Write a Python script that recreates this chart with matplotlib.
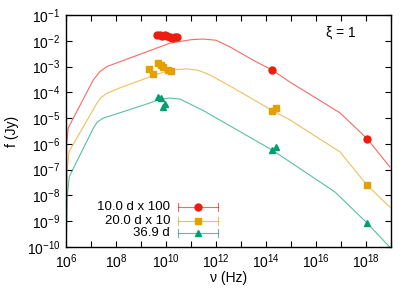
import matplotlib
matplotlib.use("Agg")
import matplotlib.pyplot as plt
import matplotlib.ticker as mticker
import numpy as np

plt.rcParams['font.family'] = ['Liberation Sans', 'DejaVu Sans']
plt.rcParams['mathtext.fontset'] = 'custom'
plt.rcParams['mathtext.rm'] = 'Liberation Sans'
plt.rcParams['mathtext.default'] = 'regular'

# model curves
red_nu = [1e6, 1.07e6, 1.23e6, 1.23e7, 2.24e7, 4.3e7, 1.45e8, 1.45e10, 1e11, 3.0e11,
          1e12, 3.6e12, 3.0e13, 1.74e14, 9.1e14, 9.1e16, 1.1e18, 9.1e18]
red_f = [3e-11, 1.07e-6, 4.2e-6, 3.0e-4, 6.3e-4, 1.0e-3, 1.55e-3, 8.1e-3, 1.1e-2, 1.17e-2,
         1.05e-2, 5.8e-3, 1.78e-3, 7.4e-4, 2.5e-4, 1.6e-5, 1.6e-6, 1.26e-7]

orange_nu = [1e6, 1.12e6, 1.32e6, 1.7e7, 2.5e7, 4.3e7, 1.45e8, 2.3e9, 1.45e10, 6.9e10,
             2e11, 5.8e11, 6.9e12, 1.74e14, 9.1e14, 9.1e16, 1.1e18, 9.1e18]
orange_f = [3e-11, 1e-7, 5e-7, 3.7e-5, 6.3e-5, 9.1e-5, 1.5e-4, 4.0e-4, 7.4e-4, 8.1e-4,
            7.1e-4, 4.7e-4, 1.23e-4, 2.0e-5, 8.5e-6, 4.9e-7, 2.5e-8, 3.5e-9]

green_nu = [1e6, 1.12e6, 1.35e6, 1.23e7, 1.78e7, 3.1e7, 1.45e8, 2.3e9, 5.8e9, 1.45e10,
            3.6e10, 3.0e11, 6.9e12, 1.74e14, 9.1e14, 5.8e16, 1.1e18, 1e19]
green_f = [3e-11, 8.9e-9, 5.4e-8, 4.0e-6, 7.1e-6, 1.0e-5, 1.62e-5, 3.9e-5, 5.5e-5, 6.0e-5,
           5.5e-5, 2.0e-5, 3.5e-6, 5.8e-7, 2.0e-7, 1.35e-8, 8.5e-10, 8.9e-11]

# observed points
red_obs_nu = [4.5e9, 5.6e9, 7.1e9, 8.9e9, 1.12e10, 1.41e10, 1.78e10, 2.24e10, 2.8e10, 1.74e14, 1.1e18]
red_obs_f = [1.74e-2, 1.66e-2, 1.58e-2, 1.66e-2, 1.51e-2, 1.45e-2, 1.32e-2, 1.41e-2, 1.45e-2, 7.4e-4, 1.6e-6]

orange_obs_nu = [2.1e9, 3.0e9, 4.8e9, 6.3e9, 7.6e9, 1.2e10, 1.6e10, 1.74e14, 2.5e14, 1.1e18]
orange_obs_f = [8.1e-4, 5.1e-4, 1.38e-3, 1.12e-3, 9.8e-4, 7.4e-4, 6.8e-4, 1.9e-5, 2.5e-5, 2.5e-8]

green_obs_nu = [4.8e9, 6.3e9, 7.9e9, 8.9e9, 1.74e14, 2.5e14, 1.1e18]
green_obs_f = [6.6e-5, 6.3e-5, 2.8e-5, 3.5e-5, 5.8e-7, 7.6e-7, 8.5e-10]

x_major = [1e6, 1e8, 1e10, 1e12, 1e14, 1e16, 1e18]
x_minor = [1e7, 1e9, 1e11, 1e13, 1e15, 1e17, 1e19]
y_major = [1e-10, 1e-9, 1e-8, 1e-7, 1e-6, 1e-5, 1e-4, 1e-3, 1e-2, 1e-1]

labels = ["10.0 d x 100", "20.0 d x 10", "36.9 d"]
colors = ["#ee1c10", "#e69f00", "#009e73"]
markers = ["o", "s", "^"]
msizes = [5, 5, 5]

fig = plt.figure(figsize=(4.15, 2.9), dpi=100)
ax = fig.add_axes([66/415, 1-247/290, 325/415, 232/290])

curves = [(red_nu, red_f), (orange_nu, orange_f), (green_nu, green_f)]
obs = [(red_obs_nu, red_obs_f), (orange_obs_nu, orange_obs_f), (green_obs_nu, green_obs_f)]

for (nu, f), c in zip(curves, colors):
    ax.plot(nu, f, '-', color=c, lw=0.8, alpha=0.65)
for (nu, f), c, m, ms in zip(obs, colors, markers, msizes):
    ax.plot(nu, f, m, color=c, ms=ms, mec=c, ls='none')

ax.set_xscale('log')
ax.set_yscale('log')
ax.set_xlim(1e6, 1e19)
ax.set_ylim(1e-10, 1e-1)

ax.xaxis.set_major_locator(mticker.FixedLocator(x_major))
ax.xaxis.set_minor_locator(mticker.FixedLocator(x_minor))
ax.xaxis.set_minor_formatter(mticker.NullFormatter())
ax.xaxis.set_major_formatter(mticker.LogFormatterSciNotation())
ax.yaxis.set_major_locator(mticker.FixedLocator(y_major))
ax.yaxis.set_major_formatter(mticker.LogFormatterSciNotation())
ax.yaxis.set_minor_locator(mticker.NullLocator())
ax.tick_params(which='both', direction='in', top=True, right=True,
               length=4, width=0.8, labelsize=10, pad=4)
for sp in ax.spines.values():
    sp.set_linewidth(1.0)

ax.set_xlabel("ν (Hz)", fontsize=10)
ax.set_ylabel("f (Jy)", fontsize=10)
ax.xaxis.set_label_coords(0.5, -0.105)
ax.yaxis.set_label_coords(-0.145, 0.5)

ax.text(0.846, 0.922, "ξ = 1", transform=ax.transAxes, fontsize=10,
        ha='center', va='center')

# gnuplot style key
rows = [0.172, 0.112, 0.060]
for lab, c, m, ms, y in zip(labels, colors, markers, msizes, rows):
    ax.text(0.32, y, lab, transform=ax.transAxes, fontsize=9.5, ha='right', va='center')
    ax.plot([0.345, 0.468], [y, y], color=c, lw=0.8, alpha=0.65, transform=ax.transAxes)
    ax.plot([0.345, 0.345], [y - 0.018, y + 0.018], color=c, lw=0.8, alpha=0.65,
            transform=ax.transAxes)
    ax.plot([0.468, 0.468], [y - 0.018, y + 0.018], color=c, lw=0.8, alpha=0.65,
            transform=ax.transAxes)
    ax.plot([0.406], [y], m, color=c, ms=ms, transform=ax.transAxes)

fig.savefig("out.png", dpi=100)
